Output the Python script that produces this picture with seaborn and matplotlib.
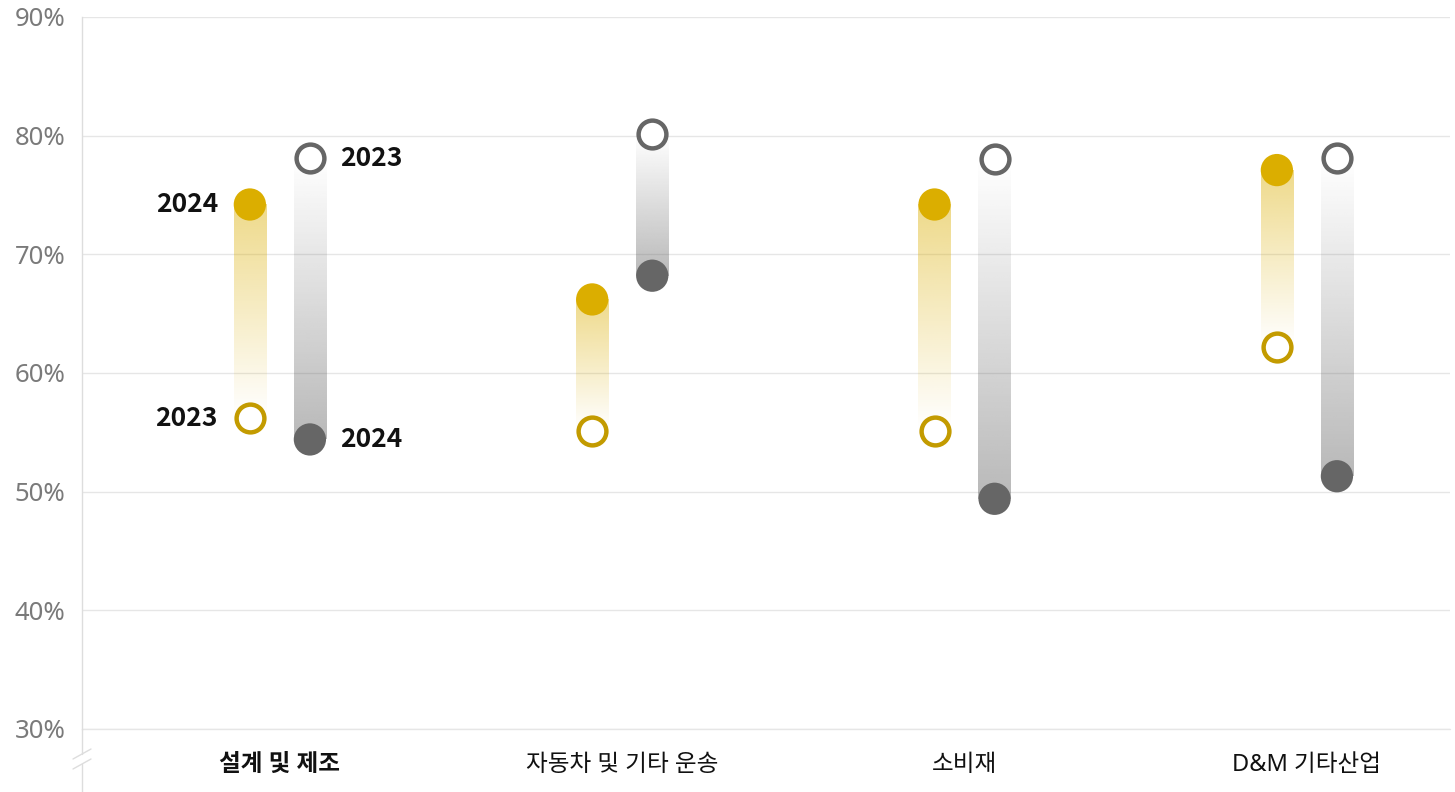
import numpy as np
import pandas as pd
import matplotlib
matplotlib.use("Agg")
import matplotlib.pyplot as plt
import seaborn as sns
from matplotlib.lines import Line2D

# Data: share (%) per industry, two series with 2023 and 2024 values
categories = ["설계 및 제조", "자동차 및 기타 운송", "소비재", "D&M 기타산업"]
gold_2023 = [56.2, 55.1, 55.1, 62.2]
gold_2024 = [74.2, 66.2, 74.2, 77.1]
gray_2023 = [78.1, 80.1, 78.0, 78.1]
gray_2024 = [54.4, 68.2, 49.4, 51.3]
y_ticks = [30, 40, 50, 60, 70, 80, 90]
year_labels = ["2023", "2024"]

GOLD = "#DBAE00"
GOLD_RING = "#C39B00"
GRAY = "#666666"
GRID = "#E6E6E6"

W, H = 1455, 792
sns.set_theme(style="white")
plt.rcParams["font.family"] = ["Noto Sans", "Noto Sans CJK KR", "DejaVu Sans"]

fig = plt.figure(figsize=(W / 100, H / 100), dpi=100)
ax = fig.add_axes([82 / W, 1 - 729 / H, (1450 - 82) / W, (729 - 17) / H])

offset = 0.0877
bar_w = 0.094
xs = np.arange(len(categories))

series = [
    ("gold", gold_2023, gold_2024, GOLD, GOLD_RING, -offset),
    ("gray", gray_2023, gray_2024, GRAY, GRAY, offset),
]

rows = []
for name, v23, v24, col, ring, dx in series:
    for i in range(len(categories)):
        rows.append({"series": name, "x": xs[i] + dx, "y2023": v23[i], "y2024": v24[i]})
df = pd.DataFrame(rows)

# gradient connectors: transparent at 2023, tinted at 2024
n = 256
for name, v23, v24, col, ring, dx in series:
    rgb = matplotlib.colors.to_rgb(col)
    for i in range(len(categories)):
        lo, hi = sorted([v23[i], v24[i]])
        t = np.linspace(0, 1, n)
        alpha = 0.46 * (t if v24[i] > v23[i] else 1 - t)
        img = np.zeros((n, 1, 4))
        img[:, 0, :3] = rgb
        img[:, 0, 3] = alpha
        x0 = xs[i] + dx
        ax.imshow(img, extent=[x0 - bar_w / 2, x0 + bar_w / 2, lo, hi],
                  origin="lower", aspect="auto", interpolation="bilinear", zorder=2)

# 2024 markers (filled) and 2023 markers (hollow)
for name, v23, v24, col, ring, dx in series:
    sub = df[df["series"] == name]
    sns.scatterplot(data=sub, x="x", y="y2024", ax=ax, s=540, color=col,
                    edgecolor="none", linewidth=0, zorder=4, legend=False)
    sns.scatterplot(data=sub, x="x", y="y2023", ax=ax, s=400, color="white",
                    edgecolor=ring, linewidth=3.2, zorder=4, legend=False)

# year labels on the first group
lab_kw = dict(fontsize=19, fontweight="bold", color="#111111", va="center",
              family=["Noto Sans CJK KR", "DejaVu Sans"],
              textcoords="offset points", annotation_clip=False)
ax.annotate(year_labels[1], (0 - offset, gold_2024[0]), xytext=(-23, 0), ha="right", **lab_kw)
ax.annotate(year_labels[0], (0 - offset, gold_2023[0]), xytext=(-23, 0), ha="right", **lab_kw)
ax.annotate(year_labels[0], (0 + offset, gray_2023[0]), xytext=(22, 0), ha="left", **lab_kw)
ax.annotate(year_labels[1], (0 + offset, gray_2024[0]), xytext=(22, 0), ha="left", **lab_kw)

ax.set_xlim(-0.578, 3.418)
ax.set_ylim(30, 90)
ax.set_yticks(y_ticks)
ax.set_yticklabels([f"{v}%" for v in y_ticks], color="#7A7A7A", fontsize=18.5)
ax.set_xticks(xs)
ax.set_xticklabels(categories, fontsize=17, color="#111111")
ax.get_xticklabels()[0].set_fontweight("bold")
ax.tick_params(axis="y", length=0, pad=12)
ax.tick_params(axis="x", length=0, pad=17.5)
ax.grid(axis="y", color=GRID, linewidth=1)
ax.axhline(30, color=GRID, linewidth=1, clip_on=False, zorder=0)
ax.set_axisbelow(True)
ax.set_xlabel("")
ax.set_ylabel("")
for s in ["top", "right", "bottom"]:
    ax.spines[s].set_visible(False)
ax.spines["left"].set_color("#DDDDDD")
ax.spines["left"].set_linewidth(1)

# spine continuation below the axis with a break mark
def fx(px):
    return px / W

def fy(py):
    return 1 - py / H

fig.add_artist(Line2D([fx(82), fx(82)], [fy(729), fy(754)], color="#DDDDDD", lw=1))
fig.add_artist(Line2D([fx(82), fx(82)], [fy(764), fy(792)], color="#DDDDDD", lw=1))
fig.add_artist(Line2D([fx(73), fx(91)], [fy(759), fy(749)], color="#DDDDDD", lw=1))
fig.add_artist(Line2D([fx(73), fx(91)], [fy(769), fy(759)], color="#DDDDDD", lw=1))

fig.savefig("out.png", dpi=100, facecolor="white")
